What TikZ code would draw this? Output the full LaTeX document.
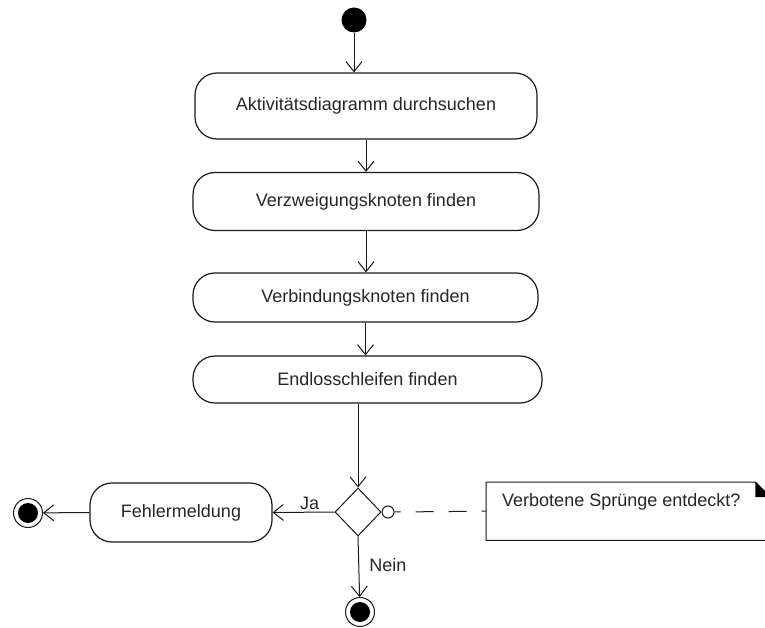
\documentclass[tikz,border=0pt]{standalone}
\usepackage{fontspec}
\setmainfont{Liberation Sans}
\usetikzlibrary{arrows.meta,shapes.geometric}
\begin{document}
\begin{tikzpicture}[x=1pt,y=-1pt,
  every node/.style={font=\fontsize{18}{21}\selectfont, text=black!85},
  line/.style={line width=1pt, draw=black!90},
  flow/.style={line, -{Straight Barb[length=10pt,width=16pt,line width=1pt]}},
  action/.style={draw=black!90, line width=1.2pt, rectangle, rounded corners=22pt, inner sep=0pt},
  initial/.style={circle, fill=black, inner sep=0pt, minimum size=25pt},
  final/.style={circle, draw=black!90, line width=1pt, fill=white, inner sep=0pt, minimum size=29pt,
    path picture={\fill[black] (path picture bounding box.center) circle (10pt);}},
  decision/.style={diamond, draw=black!90, line width=1pt, inner sep=0pt, minimum width=46pt, minimum height=48pt},
  merge/.style={circle, draw=black!90, line width=1pt, fill=white, inner sep=0pt, minimum size=12pt},
  notebox/.style={inner sep=0pt, anchor=north west},
  guard/.style={inner sep=2pt}
]
\useasboundingbox (0,0) rectangle (765,628);
\clip (0,0) rectangle (765,628);

% activity flow
\node[initial] (start) at (354,20) {};
\node[action, minimum width=342pt, minimum height=66pt] (b1) at (366,106) {Aktivitätsdiagramm durchsuchen};
\node[action, minimum width=346pt, minimum height=58pt] (b2) at (366,201.5) {Verzweigungsknoten finden};
\node[action, minimum width=345pt, minimum height=49pt] (b3) at (365.5,297.5) {Verbindungsknoten finden};
\node[action, minimum width=349pt, minimum height=47pt] (b4) at (367.5,379.5) {Endlosschleifen finden};
\node[decision] (dec) at (358,512) {};
\node[merge] (cond) at (388,512) {};
\node[action, minimum width=182pt, minimum height=59pt] (err) at (181,512.5) {Fehlermeldung};
\node[final] (endL) at (28,513) {};
\node[final] (endB) at (360,612) {};

% note with folded corner
\node[notebox, minimum width=284pt, minimum height=58pt] (note) at (486,482) {};
\draw[line] (note.north west) -- ([xshift=-15pt]note.north east) -- ([yshift=-15pt]note.north east)
  -- (note.south east) -- (note.south west) -- cycle;
\fill[black] ([xshift=-15pt]note.north east) -- ([xshift=-15pt,yshift=-15pt]note.north east)
  -- ([yshift=-15pt]note.north east) -- cycle;
\node[anchor=west, inner sep=0pt] (notetext) at (502,502) {Verbotene Sprünge entdeckt?};

% connectors
\draw[flow] (start) -- (start |- b1.north);
\draw[flow] (b1.south) -- (b1.south |- b2.north);
\draw[flow] (b2.south) -- (b2.south |- b3.north);
\draw[flow] (b3.south) -- (b3.south |- b4.north);
\draw[flow] (dec.north |- b4.south) -- (dec.north);
\draw[flow] (dec.west) -- node[guard, pos=0.4, above] {Ja} (err.east);
\draw[flow] (err.west) -- (endL);
\draw[flow] (dec.south) -- node[guard, pos=0.48, right, xshift=8pt] {Nein} (endB);
\draw[line, dash pattern=on 18pt off 15pt, dash phase=12pt] (cond.east) -- (note.west);
\end{tikzpicture}
\end{document}
